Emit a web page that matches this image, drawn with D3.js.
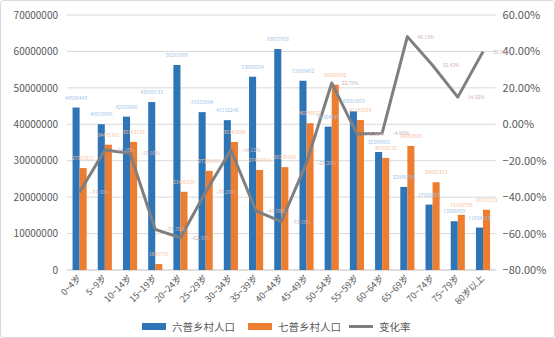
<!DOCTYPE html>
<html><head><meta charset="utf-8">
<script src="https://cdn.jsdelivr.net/npm/d3@7"></script>
<style>
html,body{margin:0;padding:0;background:#fff;}
svg{display:block;}
</style></head>
<body>
<svg id="c" width="555" height="338"></svg>
<script>
const categories = ["0~4岁","5~9岁","10~14岁","15~19岁","20~24岁","25~29岁","30~34岁","35~39岁","40~44岁","45~49岁","50~54岁","55~59岁","60~64岁","65~69岁","70~74岁","75~79岁","80岁以上"];
const census6 = [44596440,40015990,42100906,46099133,56281000,43333994,41132246,53060594,60657958,51950402,39364235,43581603,32390065,22806836,17956467,13386050,11654212];
const census7 = [27983511,34405391,35163135,1630791,21469336,27221460,35141696,27454019,28235146,40298922,50868182,41163376,30768135,34058665,24085313,15142788,16531172];
const changeRate = [-0.373,-0.141,-0.159,-0.577,-0.623,-0.372,-0.1412,-0.475,-0.535,-0.212,0.227,-0.053,-0.049,0.4813,0.3243,0.1492,0.399];
const leftTicks = [0,10000000,20000000,30000000,40000000,50000000,60000000,70000000];
const rightTicks = [-0.8,-0.6,-0.4,-0.2,0,0.2,0.4,0.6];
const seriesNames = ["六普乡村人口","七普乡村人口","变化率"];

const svg = d3.select("#c");
const L = 67, R = 495.6, T = 15, B = 270;
const blue = "#2e75b6", orange = "#ed7d31", gray = "#7f7f7f";
const font = "'Noto Sans CJK SC','Noto Sans',sans-serif";

svg.append("rect").attr("x",0.5).attr("y",0.5).attr("width",554).attr("height",337)
  .attr("fill","#fff").attr("stroke","#d9d9d9").attr("rx",3);

const x = d3.scaleBand().domain(categories).range([L,R]);
const bw = x.bandwidth();
const xs = d3.scaleBand().domain([0,1]).range([bw*0.22,bw*0.78]);
const y = d3.scaleLinear().domain([0,70000000]).range([B,T]);
const y2 = d3.scaleLinear().domain([-0.8,0.6]).range([B,T]);

// gridlines
svg.append("g").selectAll("line").data(leftTicks).join("line")
  .attr("x1",L).attr("x2",R).attr("y1",d=>y(d)).attr("y2",d=>y(d))
  .attr("stroke",d=>d===0?"#bfbfbf":"#d9d9d9").attr("stroke-width",1);

// left axis
const la = svg.append("g").attr("transform",`translate(${L},0)`)
  .call(d3.axisLeft(y).tickValues(leftTicks).tickSize(0).tickPadding(9).tickFormat(d3.format("d")));
la.select(".domain").remove();
la.selectAll("text").attr("font-family",font).attr("font-size",10).attr("fill","#595959");

// right axis
const ra = svg.append("g").attr("transform",`translate(${R},0)`)
  .call(d3.axisRight(y2).tickValues(rightTicks).tickSize(0).tickPadding(7)
    .tickFormat(d=>d3.format(".2f")(d*100).replace("-","−")+"%"));
ra.select(".domain").remove();
ra.selectAll("text").attr("font-family",font).attr("font-size",11).attr("fill","#595959");

// bars
const bars = svg.append("g");
[census6,census7].forEach((arr,si)=>{
  bars.selectAll(null).data(arr).join("rect")
    .attr("x",(d,i)=>x(categories[i])+xs(si))
    .attr("y",d=>y(d))
    .attr("width",xs.bandwidth())
    .attr("height",d=>B-y(d))
    .attr("fill",si===0?blue:orange);
});

// line
const line = d3.line().x((d,i)=>x(categories[i])+bw/2).y(d=>y2(d));
svg.append("path").datum(changeRate).attr("d",line)
  .attr("fill","none").attr("stroke",gray).attr("stroke-width",3).attr("stroke-linejoin","round");

// data labels
const lbl = svg.append("g").attr("font-family",font).attr("font-size",5);
[census6,census7].forEach((arr,si)=>{
  lbl.selectAll(null).data(arr).join("text")
    .attr("x",(d,i)=>x(categories[i])+xs(si)+xs.bandwidth()/2)
    .attr("y",d=>y(d)-8)
    .attr("text-anchor","middle")
    .attr("fill",si===0?"#9dc3e6":"#f8c09a")
    .text(d=>d);
});
lbl.selectAll(null).data(changeRate).join("text")
  .attr("x",(d,i)=>x(categories[i])+bw/2+10)
  .attr("y",d=>y2(d)+2)
  .attr("fill","#d0b0b0")
  .text(d=>d3.format(".2%")(d));

// x labels
svg.append("g").selectAll("text").data(categories).join("text")
  .attr("transform",d=>`translate(${x(d)+bw/2+2},${B+9}) rotate(-45)`)
  .attr("text-anchor","end").attr("font-family",font).attr("font-size",9).attr("fill","#595959")
  .text(d=>d);

// legend
const lg = svg.append("g").attr("font-family",font).attr("font-size",10.5).attr("fill","#595959");
const items = [{n:seriesNames[0],c:blue,t:"rect",x:142},{n:seriesNames[1],c:orange,t:"rect",x:248},{n:seriesNames[2],c:gray,t:"line",x:349}];
items.forEach(it=>{
  if(it.t==="rect") lg.append("rect").attr("x",it.x).attr("y",323).attr("width",24).attr("height",7).attr("fill",it.c);
  else lg.append("line").attr("x1",it.x).attr("x2",it.x+24).attr("y1",326.5).attr("y2",326.5).attr("stroke",it.c).attr("stroke-width",3);
  lg.append("text").attr("x",it.x+30).attr("y",330.5).text(it.n);
});
</script>
</body></html>
